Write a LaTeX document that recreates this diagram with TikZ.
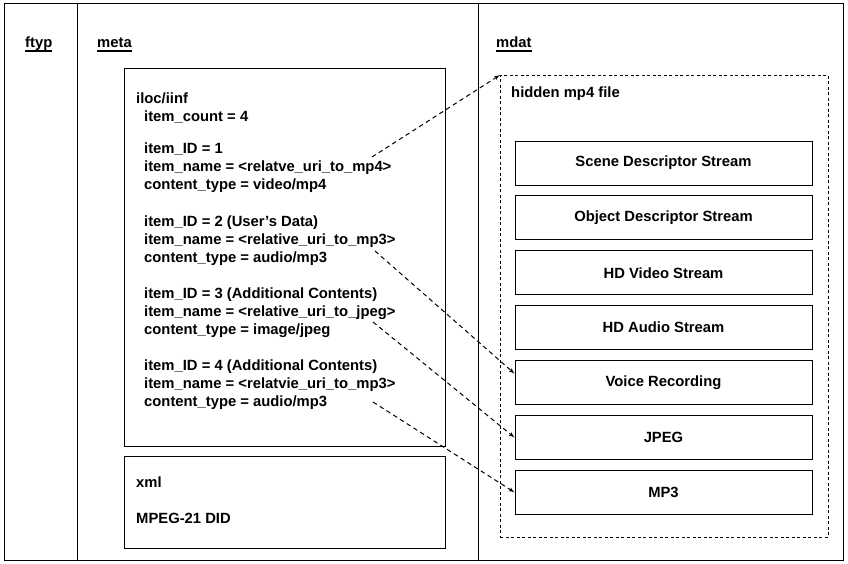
\documentclass[tikz,border=0pt]{standalone}
\usepackage{fontspec}
\setmainfont{Liberation Sans}
\usetikzlibrary{positioning}
\usetikzlibrary{arrows}
\newcommand\txtfont{\bfseries\fontsize{14.8}{17.8}\selectfont}
\newcommand\boxtitle[1]{\setbox0\hbox{#1}\rlap{\rule[-3.6pt]{\wd0}{1.3pt}}\box0}

\begin{document}
\begin{tikzpicture}[x=1pt,y=-1pt]
      \tikzset{
        col/.style={draw, rectangle, line width=1.3pt, anchor=north west, inner sep=0},
        box/.style={draw, rectangle, line width=0.9pt, anchor=north west, inner sep=0},
        hidden/.style={draw, rectangle, dash pattern=on 3pt off 2.5pt, line width=0.8pt, anchor=north west, inner sep=0},
        stream/.style={draw, rectangle, line width=0.9pt, minimum width=297pt, minimum height=44pt, node distance=10pt, font=\txtfont},
        title/.style={anchor=base west, inner sep=0, font=\txtfont},
        txt/.style={anchor=north west, inner sep=0, align=left, font=\txtfont},
        line/.style={draw, dash pattern=on 4.5pt off 3.5pt, line width=1pt, -latex'},
      }
      \useasboundingbox (0,0) rectangle (848,564);

      \node [col, minimum width=73pt, minimum height=557pt] (ftyp) at (4,3) {};
      \node [col, minimum width=401pt, minimum height=557pt] (meta) at (77,3) {};
      \node [col, minimum width=365pt, minimum height=557pt] (mdat) at (478,3) {};
      \node [title] (ftyplbl) at (25,48) {\boxtitle{ftyp}};
      \node [title] (metalbl) at (97,48) {\boxtitle{meta}};
      \node [title] (mdatlbl) at (496,48) {\boxtitle{mdat}};

      % meta side
      \node [box, minimum width=321pt, minimum height=378pt] (iloc) at (124,68) {};
      \node [txt] (hdr) at (136,92.5) {iloc/iinf\\\hspace*{8pt}item\_count = 4};
      \node [txt] (it1) at (144,142.5) {item\_ID = 1\\item\_name = <relatve\_uri\_to\_mp4>\\content\_type = video/mp4};
      \node [txt] (it2) at (144,215.5) {item\_ID = 2 (User's Data)\\item\_name = <relative\_uri\_to\_mp3>\\content\_type = audio/mp3};
      \node [txt] (it3) at (144,287.5) {item\_ID = 3 (Additional Contents)\\item\_name = <relative\_uri\_to\_jpeg>\\content\_type = image/jpeg};
      \node [txt] (it4) at (144,359.5) {item\_ID = 4 (Additional Contents)\\item\_name = <relatvie\_uri\_to\_mp3>\\content\_type = audio/mp3};
      \node [box, minimum width=321pt, minimum height=92pt] (xml) at (124,456) {};
      \node [txt] (did) at (136,476.5) {xml\\[17.8pt]MPEG-21 DID};

      % mdat side
      \node [hidden, minimum width=328pt, minimum height=462pt] (hidden) at (500,75) {};
      \node [title] (hidlbl) at (511,98) {hidden mp4 file};
      \node [stream] (scene) at (663.5,163) {Scene Descriptor Stream};
      \node [stream, below=of scene] (objd) {Object Descriptor Stream};
      \node [stream, below=of objd] (video) {HD Video Stream};
      \node [stream, below=of video] (audio) {HD Audio Stream};
      \node [stream, below=of audio] (voice) {Voice Recording};
      \node [stream, below=of voice] (jpeg) {JPEG};
      \node [stream, below=of jpeg] (mp3) {MP3};

      \coordinate (s1) at (372,157);
      \coordinate (s2) at (375,251);
      \coordinate (s3) at (373,322);
      \coordinate (s4) at (373,402);

      \path [line] (s1)--(hidden.north west);
      \path [line] (s2)--([yshift=9pt]voice.west);
      \path [line] (s3)--(jpeg.west);
      \path [line] (s4)--(mp3.west);
      \end{tikzpicture}
\end{document}
